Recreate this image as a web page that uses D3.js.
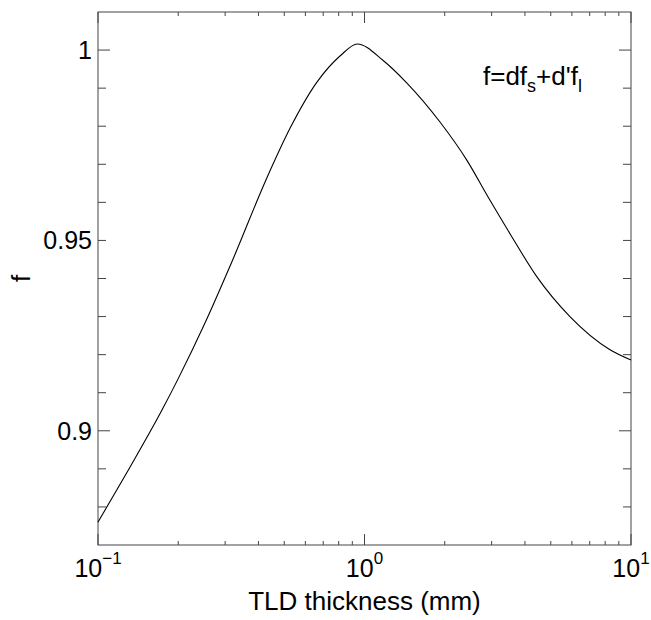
<!DOCTYPE html>
<html>
<head>
<meta charset="utf-8">
<script src="https://cdn.jsdelivr.net/npm/d3@7"></script>
<style>
  body { margin: 0; background: #fff; }
  text { font-family: Arial, "Liberation Sans", sans-serif; fill: #000; }
</style>
</head>
<body>
<div id="chart"></div>
<script>
// TLD thickness (mm) and the weighting factor f
const thickness = [0.1, 0.13, 0.174, 0.2, 0.252, 0.318, 0.43, 0.526, 0.662, 0.811, 0.94,
                   1.178, 1.44, 1.92, 2.42, 2.92, 3.52, 4.43, 5.9, 8.34, 10]
const fValues = [0.876, 0.8897, 0.9055, 0.9137, 0.9283, 0.9444, 0.9664, 0.9795, 0.9915, 0.9985, 1.0016,
                 0.9972, 0.9914, 0.9811, 0.9711, 0.9612, 0.9517, 0.9405, 0.9300, 0.9213, 0.9186]
const xTickExps = [-1, 0, 1]
const yTickLabels = [0.9, 0.95, 1]

const width = 651, height = 620
const plotL = 98, plotR = 631, plotT = 12, plotB = 545

const svg = d3.select('#chart')
    .append('svg')
    .attr('width', width)
    .attr('height', height)

const x = d3.scaleLog().domain([0.1, 10]).range([plotL, plotR])
const y = d3.scaleLinear().domain([0.87, 1.01]).range([plotB, plotT])

const frameColor = '#444'

// frame
svg.append('rect')
    .attr('x', plotL).attr('y', plotT)
    .attr('width', plotR - plotL).attr('height', plotB - plotT)
    .attr('fill', 'none')
    .attr('stroke', frameColor)
    .attr('stroke-width', 1)

// x ticks (log decades + minor), inward on bottom and top
const xMinor = []
for (let e = -1; e < 1; e++) {
    for (let k = 2; k <= 9; k++) xMinor.push(k * Math.pow(10, e))
}
const xMajor = xTickExps.map(e => Math.pow(10, e))

const ticks = svg.append('g').attr('stroke', frameColor).attr('stroke-width', 1)

xMinor.forEach(v => {
    ticks.append('line').attr('x1', x(v)).attr('x2', x(v)).attr('y1', plotB).attr('y2', plotB - 4)
    ticks.append('line').attr('x1', x(v)).attr('x2', x(v)).attr('y1', plotT).attr('y2', plotT + 4)
})
xMajor.forEach(v => {
    ticks.append('line').attr('x1', x(v)).attr('x2', x(v)).attr('y1', plotB).attr('y2', plotB - 11)
    ticks.append('line').attr('x1', x(v)).attr('x2', x(v)).attr('y1', plotT).attr('y2', plotT + 11)
})

// y ticks every 0.01, longer at 0.9 and 1
d3.range(88, 101).map(d => d / 100).forEach(v => {
    const len = (Math.abs(v - 0.9) < 1e-9 || Math.abs(v - 1) < 1e-9) ? 12 : 8
    ticks.append('line').attr('x1', plotL).attr('x2', plotL + len).attr('y1', y(v)).attr('y2', y(v))
    ticks.append('line').attr('x1', plotR).attr('x2', plotR - len).attr('y1', y(v)).attr('y2', y(v))
})

// y tick labels
svg.append('g').selectAll('text')
    .data(yTickLabels)
    .enter()
    .append('text')
    .attr('x', plotL - 6)
    .attr('y', d => y(d))
    .attr('dy', '0.35em')
    .attr('text-anchor', 'end')
    .attr('font-size', 25)
    .text(d => d3.format('')(d))

// x tick labels 10^e
const xl = svg.append('g').selectAll('text')
    .data(xTickExps)
    .enter()
    .append('text')
    .attr('x', d => x(Math.pow(10, d)))
    .attr('y', 577)
    .attr('text-anchor', 'middle')
    .attr('font-size', 25)
xl.append('tspan').text('10')
xl.append('tspan').attr('font-size', 17).attr('dy', -13).text(d => d < 0 ? '\u2212' + (-d) : d)

// curve
const line = d3.line()
    .x((d, i) => x(thickness[i]))
    .y(d => y(d))
    .curve(d3.curveMonotoneX)

svg.append('path')
    .datum(fValues)
    .attr('d', line)
    .attr('fill', 'none')
    .attr('stroke', '#000')
    .attr('stroke-width', 1.1)

// axis labels
svg.append('text')
    .attr('x', (plotL + plotR) / 2)
    .attr('y', 610)
    .attr('text-anchor', 'middle')
    .attr('font-size', 26)
    .text('TLD thickness (mm)')

svg.append('text')
    .attr('transform', `translate(30, ${(plotT + plotB) / 2}) rotate(-90)`)
    .attr('text-anchor', 'middle')
    .attr('font-size', 26)
    .text('f')

// formula annotation
const ann = svg.append('text')
    .attr('x', 483)
    .attr('y', 85)
    .attr('font-size', 26)
ann.append('tspan').text('f=df')
ann.append('tspan').attr('font-size', 18).attr('dy', 7).text('s')
ann.append('tspan').attr('dy', -7).text("+d'f")
ann.append('tspan').attr('font-size', 18).attr('dy', 7).text('l')
</script>
</body>
</html>
